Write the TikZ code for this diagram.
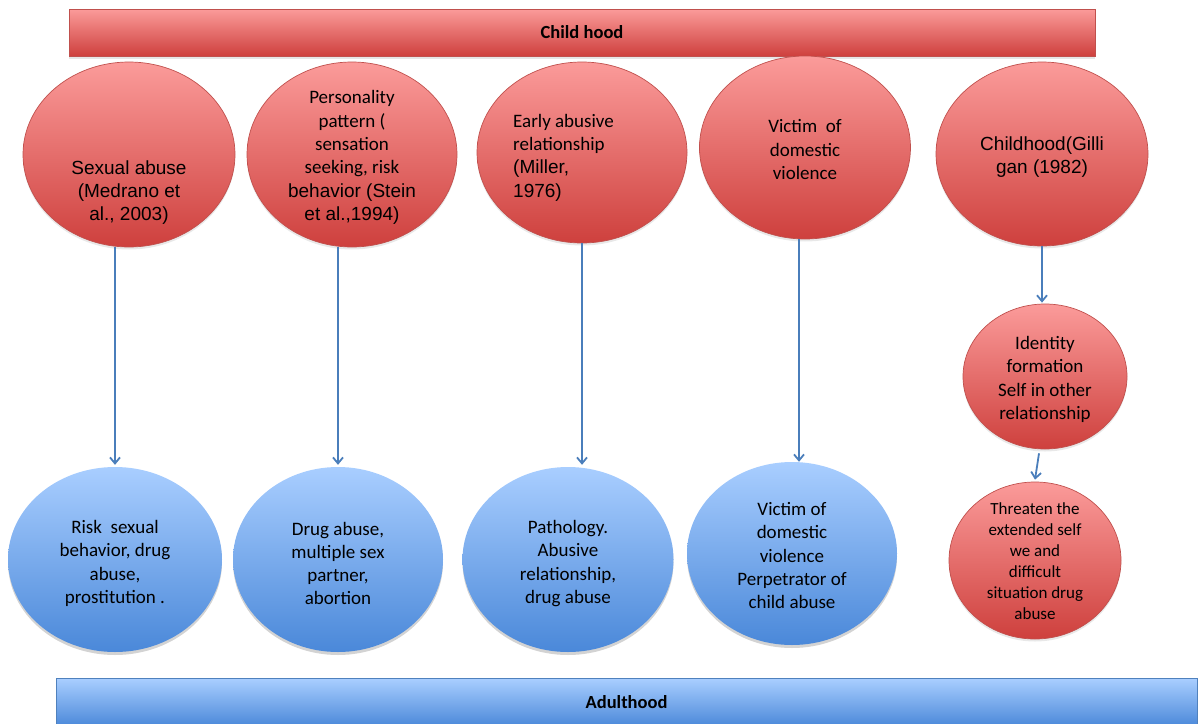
\documentclass[tikz,border=0pt]{standalone}
\usepackage{fontspec}
\setmainfont{Carlito}
\newfontfamily\arialfont{Liberation Sans}
\usetikzlibrary{shapes.geometric,shadows,arrows.meta}

\definecolor{redtop}{HTML}{FB9B9A}
\definecolor{redbot}{HTML}{CE403D}
\definecolor{redline}{HTML}{C0504D}
\definecolor{bluetop}{HTML}{A9CEFF}
\definecolor{bluebot}{HTML}{4A88D9}
\definecolor{blueline}{HTML}{4F81BD}
\definecolor{arrowblue}{HTML}{4A7EBB}

\tikzset{
  basefont/.style={font=\fontsize{19}{23.3}\selectfont},
  txt/.style={inner sep=0pt, align=center, basefont},
  redball/.style={ellipse, draw=redline, line width=0.7pt,
    top color=redtop, bottom color=redbot, inner sep=0pt,
    drop shadow={opacity=0.18, shadow xshift=0pt, shadow yshift=-2.5pt}},
  blueball/.style={ellipse, draw=none,
    top color=bluetop, bottom color=bluebot, inner sep=0pt,
    drop shadow={opacity=0.35, shadow xshift=0pt, shadow yshift=-3pt}},
  redbar/.style={rectangle, draw=redline, line width=0.7pt,
    top color=redtop, bottom color=redbot, inner sep=0pt,
    font=\fontsize{18.5}{22}\selectfont\bfseries,
    drop shadow={opacity=0.2, shadow xshift=0pt, shadow yshift=-2.5pt}},
  bluebar/.style={rectangle, draw=blueline, line width=0.7pt,
    top color=bluetop, bottom color=bluebot, inner sep=0pt,
    font=\fontsize{18.5}{22}\selectfont\bfseries},
  flow/.style={draw=arrowblue, line width=1.8pt,
    -{Straight Barb[length=6pt,width=10pt]}},
}

\begin{document}
\begin{tikzpicture}[x=1pt,y=-1pt]
\useasboundingbox (0,0) rectangle (1199,723);

% stage bars
\node[redbar, minimum width=1026pt, minimum height=47pt] (child) at (582,32.5) {Child hood};
\node[bluebar, minimum width=1141pt, minimum height=48pt] (adult) at (626.5,702.5) {Adulthood};

% childhood factors
\node[redball, minimum width=212pt, minimum height=185pt] (e1) at (129,154.5) {};
\node[txt, font=\fontsize{19}{23.3}\selectfont\arialfont] (e1t) at (129,192.5)
  {Sexual abuse\\ (Medrano et\\ al., 2003)};

\node[redball, minimum width=210pt, minimum height=185pt] (e2) at (352,154.5) {};
\node[txt] (e2t) at ([yshift=-3pt]e2.center)
  {Personality\\ pattern (\\ sensation\\ seeking, risk\\ {\arialfont behavior (Stein}\\ {\arialfont et al.,1994)}};

\node[redball, minimum width=210pt, minimum height=181pt] (e3) at (582,152.5) {};
\node[txt, anchor=west, align=left] (e3t) at (513,157.5)
  {Early abusive\\ relationship\\ {\arialfont (Miller,}\\ {\arialfont 1976)}};

\node[redball, minimum width=211pt, minimum height=183pt] (e4) at (805,147.5) {};
\node[txt] (e4t) at ([yshift=-2pt]e4.center) {Victim~ of\\ domestic\\ violence};

\node[redball, minimum width=212pt, minimum height=184pt] (e5) at (1042,154) {};
\node[txt, font=\fontsize{19}{23.3}\selectfont\arialfont] (e5t) at ([yshift=-3pt]e5.center)
  {Childhood(Gilli\\ gan (1982)};

% identity chain
\node[redball, minimum width=164pt, minimum height=145pt] (id) at (1045,376.5) {};
\node[txt] (idt) at ([yshift=-3pt]id.center)
  {Identity\\ formation\\ Self in other\\ relationship};
\node[redball, minimum width=172pt, minimum height=157pt] (th) at (1035,560.5) {};
\node[txt, font=\fontsize{17}{21}\selectfont] (tht) at ([yshift=-1pt]th.center)
  {Threaten the\\ extended self\\ we and\\ difficult\\ situation drug\\ abuse};

% adulthood outcomes
\node[blueball, minimum width=214pt, minimum height=185pt] (b1) at (115,559.5) {};
\node[txt] (b1t) at ([yshift=-4pt]b1.center)
  {Risk~ sexual\\ behavior, drug\\ abuse,\\ prostitution .};
\node[blueball, minimum width=210pt, minimum height=185pt] (b2) at (338,559.5) {};
\node[txt] (b2t) at ([yshift=-4pt]b2.center)
  {Drug abuse,\\ multiple sex\\ partner,\\ abortion};
\node[blueball, minimum width=211pt, minimum height=185pt] (b3) at (568,559.5) {};
\node[txt] (b3t) at ([yshift=-4pt]b3.center)
  {Pathology.\\ Abusive\\ relationship,\\ drug abuse};
\node[blueball, minimum width=210pt, minimum height=183pt] (b4) at (792,553.5) {};
\node[txt] (b4t) at ([yshift=-2pt]b4.center)
  {Victim of\\ domestic\\ violence\\ Perpetrator of\\ child abuse};

% links
\draw[flow] (e1.south -| b1.north) -- ([yshift=2pt]b1.north);
\draw[flow] (e2.south -| b2.north) -- ([yshift=2pt]b2.north);
\draw[flow] (e3.south) -- ([yshift=2pt]e3.south |- b3.north);
\draw[flow] ([xshift=-6pt]e4.south) -- ([xshift=7pt]b4.north);
\draw[flow] (e5.south) -- ([yshift=1pt]e5.south |- id.north);
\draw[flow] ([xshift=-6pt,yshift=-4pt]id.south) -- ([yshift=2pt]th.north);
\end{tikzpicture}
\end{document}
